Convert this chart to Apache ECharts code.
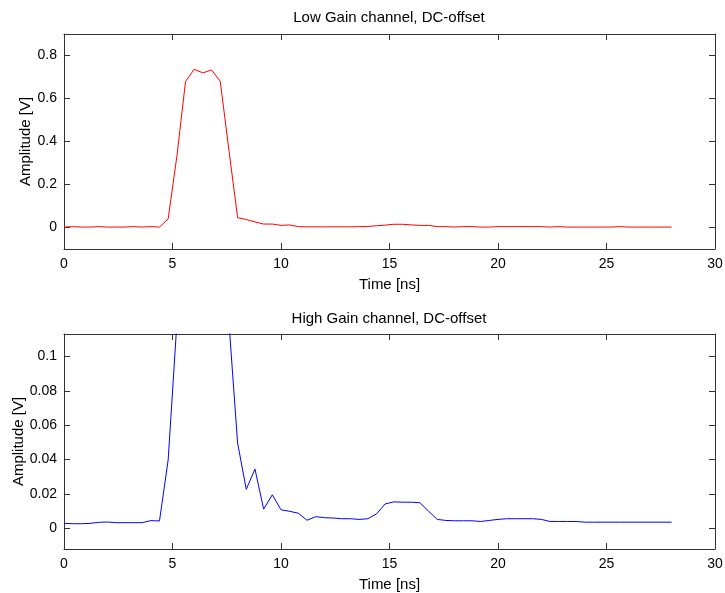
<!DOCTYPE html>
<html>
<head>
    <meta charset="utf-8">
    <script src="https://cdn.jsdelivr.net/npm/echarts@6/dist/echarts.min.js"></script>
    <style>
        body { margin: 0; background: #fff; }
        #chart { width: 725px; height: 593px; }
    </style>
</head>
<body>
    <div id="chart"></div>
    <script type="text/javascript">
        // sample times [ns], 0.4 ns step
        var time_ns = [0, 0.4, 0.8, 1.2, 1.6, 2, 2.4, 2.8, 3.2, 3.6, 4, 4.4, 4.8, 5.2, 5.6, 6, 6.4, 6.8, 7.2, 7.6,
            8, 8.4, 8.8, 9.2, 9.6, 10, 10.4, 10.8, 11.2, 11.6, 12, 12.4, 12.8, 13.2, 13.6, 14, 14.4, 14.8, 15.2, 15.6,
            16, 16.4, 16.8, 17.2, 17.6, 18, 18.4, 18.8, 19.2, 19.6, 20, 20.4, 20.8, 21.2, 21.6, 22, 22.4, 22.8, 23.2, 23.6,
            24, 24.4, 24.8, 25.2, 25.6, 26, 26.4, 26.8, 27.2, 27.6, 28];

        // low gain channel amplitude [V]
        var low_gain = [0.002, 0.004, 0.002, 0.002, 0.004, 0.002, 0.002, 0.002, 0.004, 0.002, 0.004, 0.002, 0.040, 0.33, 0.679, 0.736, 0.719, 0.733, 0.680, 0.36,
            0.046, 0.037, 0.026, 0.016, 0.016, 0.010, 0.012, 0.004, 0.003, 0.003, 0.003, 0.003, 0.003, 0.003, 0.004, 0.005, 0.008, 0.011, 0.015, 0.015,
            0.012, 0.010, 0.010, 0.004, 0.004, 0.002, 0.004, 0.004, 0.002, 0.002, 0.004, 0.004, 0.004, 0.004, 0.004, 0.004, 0.002, 0.004, 0.002, 0.002,
            0.002, 0.002, 0.002, 0.002, 0.004, 0.002, 0.002, 0.002, 0.002, 0.002, 0.002];

        // high gain channel amplitude [V]
        var high_gain = [0.0029, 0.0027, 0.0027, 0.0029, 0.0035, 0.0037, 0.0033, 0.0033, 0.0033, 0.0033, 0.0045, 0.0043, 0.0398, 0.119, 0.125, 0.125, 0.125, 0.125, 0.125, 0.12,
            0.0496, 0.0227, 0.0345, 0.0112, 0.0195, 0.0108, 0.0099, 0.0088, 0.0047, 0.0068, 0.0062, 0.0060, 0.0056, 0.0056, 0.0052, 0.0056, 0.0084, 0.0142, 0.0154, 0.0152,
            0.0152, 0.0149, 0.0100, 0.0052, 0.0046, 0.0044, 0.0044, 0.0044, 0.0040, 0.0046, 0.0052, 0.0056, 0.0056, 0.0056, 0.0056, 0.0052, 0.0040, 0.0040, 0.0040, 0.0040,
            0.0036, 0.0036, 0.0036, 0.0036, 0.0036, 0.0036, 0.0036, 0.0036, 0.0036, 0.0036, 0.0036];

        var low_ticks = [0, 0.2, 0.4, 0.6, 0.8];
        var high_ticks = [0, 0.02, 0.04, 0.06, 0.08, 0.1];

        var font = 'Liberation Sans';
        var axisColor = '#333';

        function pairs(xs, ys) {
            var out = [];
            for (var i = 0; i < xs.length; i++) {
                out.push([xs[i], ys[i]]);
            }
            return out;
        }

        function x_axis(grid, pos, show_label, with_name) {
            return {
                type: 'value', gridIndex: grid, position: pos,
                min: 0, max: 30, interval: 5,
                name: with_name ? 'Time [ns]' : '',
                nameLocation: 'middle', nameGap: 28,
                nameTextStyle: { fontFamily: font, fontSize: 15, color: '#000' },
                axisLine: { show: true, onZero: false, lineStyle: { color: axisColor, width: 1 } },
                axisTick: { show: true, inside: true, length: 6, lineStyle: { color: axisColor } },
                axisLabel: { show: show_label, margin: 8, fontFamily: font, fontSize: 14, color: '#000' },
                splitLine: { show: false }
            };
        }

        function y_axis(grid, pos, min, max, ticks, show_label, name_gap) {
            return {
                type: 'value', gridIndex: grid, position: pos,
                min: min, max: max,
                name: name_gap ? 'Amplitude [V]' : '',
                nameLocation: 'middle', nameGap: name_gap || 0,
                nameMoveOverlap: false,
                nameTextStyle: { fontFamily: font, fontSize: 15, color: '#000' },
                axisLine: { show: true, onZero: false, lineStyle: { color: axisColor, width: 1 } },
                axisTick: { show: true, inside: true, length: 6, customValues: ticks, lineStyle: { color: axisColor } },
                axisLabel: { show: show_label, margin: 7, customValues: ticks, fontFamily: font, fontSize: 14, color: '#000' },
                splitLine: { show: false }
            };
        }

        var option = {
            animation: false,
            backgroundColor: '#fff',
            title: [
                { text: 'Low Gain channel, DC-offset', left: 389, top: 10, padding: 0, textAlign: 'center',
                  textStyle: { fontFamily: font, fontSize: 15, fontWeight: 'normal', color: '#000' } },
                { text: 'High Gain channel, DC-offset', left: 389, top: 311, padding: 0, textAlign: 'center',
                  textStyle: { fontFamily: font, fontSize: 15, fontWeight: 'normal', color: '#000' } }
            ],
            grid: [
                { left: 64, top: 34, width: 651, height: 215, containLabel: false, outerBoundsMode: 'none' },
                { left: 64, top: 334, width: 651, height: 215, containLabel: false, outerBoundsMode: 'none' }
            ],
            xAxis: [
                x_axis(0, 'bottom', true, true),
                x_axis(0, 'top', false, false),
                x_axis(1, 'bottom', true, true),
                x_axis(1, 'top', false, false)
            ],
            yAxis: [
                y_axis(0, 'left', -0.1, 0.9, low_ticks, true, 31),
                y_axis(0, 'right', -0.1, 0.9, low_ticks, false, 0),
                y_axis(1, 'left', -0.012, 0.113, high_ticks, true, 38),
                y_axis(1, 'right', -0.012, 0.113, high_ticks, false, 0)
            ],
            series: [
                {
                    name: 'Low Gain', type: 'line', xAxisIndex: 0, yAxisIndex: 0,
                    showSymbol: false, clip: true,
                    lineStyle: { color: '#ff0000', width: 1 },
                    data: pairs(time_ns, low_gain)
                },
                {
                    name: 'High Gain', type: 'line', xAxisIndex: 2, yAxisIndex: 2,
                    showSymbol: false, clip: true,
                    lineStyle: { color: '#0000ff', width: 1 },
                    data: pairs(time_ns, high_gain)
                }
            ]
        };

        var myChart = echarts.init(document.getElementById('chart'));
        myChart.setOption(option);
    </script>
</body>
</html>
